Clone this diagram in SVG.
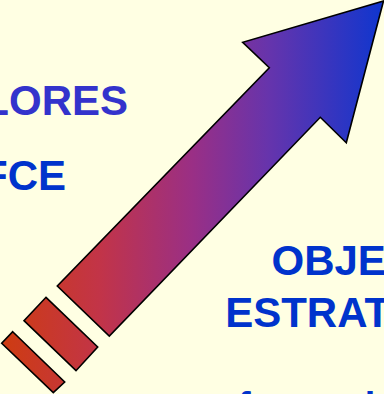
<svg xmlns="http://www.w3.org/2000/svg" width="384" height="394" viewBox="0 0 384 394">
<defs>
<linearGradient id="g" gradientUnits="userSpaceOnUse" x1="0" y1="0" x2="384" y2="0">
<stop offset="0" stop-color="#CE3C10"/>
<stop offset="0.26" stop-color="#C23448"/>
<stop offset="0.5" stop-color="#9A2F85"/>
<stop offset="0.7" stop-color="#6634AC"/>
<stop offset="1" stop-color="#0E36CF"/>
</linearGradient>
<style>
.s{fill:url(#g);stroke:#000;stroke-width:1.6;stroke-linejoin:miter}
.t{font-family:"Liberation Sans",Arial,sans-serif;font-weight:bold;font-size:42px;fill:#0033CC}
</style>
</defs>
<rect width="384" height="394" fill="#FFFFE3"/>
<g id="arrow">
<polygon class="s" points="383.5,1 346.3,142.7 320.3,117.3 109.3,336 57.3,286 269.3,67.7 242.7,42.3"/>
</g>
<g id="bar1">
<polygon class="s" points="46,297.3 97.7,347 76,370.7 24,320.7"/>
</g>
<g id="bar2">
<polygon class="s" points="12.7,331.7 64.7,382 53.3,392.7 1.7,343.3"/>
</g>
<g id="labels">
<text class="t" x="-16.7" y="115" style="fill:#3333CC">LORES</text>
<text class="t" x="-18" y="190">FCE</text>
<text class="t" x="271.5" y="275">OBJE</text>
<text class="t" x="225.2" y="326.7">ESTRAT</text>
<text class="t" x="238" y="419" style="font-size:38px">formación</text>
</g>
</svg>
